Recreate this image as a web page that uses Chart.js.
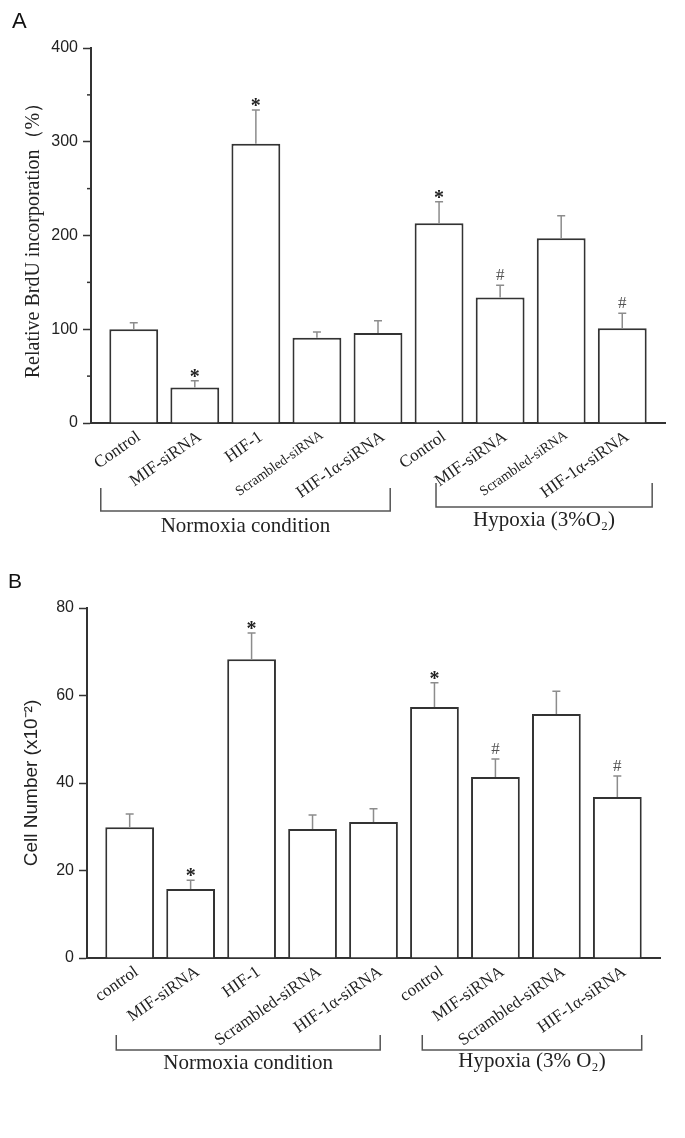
<!DOCTYPE html>
<html>
<head>
<meta charset="utf-8">
<script src="https://cdn.jsdelivr.net/npm/chart.js@4.4.0/dist/chart.umd.min.js"></script>
<style>
    body { margin: 0; background: #fff; width: 685px; height: 1138px; position: relative; overflow: hidden; }
    .panel { position: absolute; left: 0; width: 685px; }
    .panel canvas { display: block; }
    .letter { position: absolute; font-family: 'Liberation Sans', Arial, sans-serif; color: #111; line-height: 1; }
</style>
</head>
<body>
<div class="panel" style="top:0;height:560px"><canvas id="grafico1" width="685" height="560"></canvas></div>
<div class="panel" style="top:560px;height:578px"><canvas id="grafico2" width="685" height="578"></canvas></div>
<div class="letter" style="left:12px;top:10px;font-size:22px">A</div>
<div class="letter" style="left:8px;top:570px;font-size:21px">B</div>
<script>
    // panel A - BrdU
    const labelsA = ['Control', 'MIF-siRNA', 'HIF-1', 'Scrambled-siRNA', 'HIF-1α-siRNA', 'Control', 'MIF-siRNA', 'Scrambled-siRNA', 'HIF-1α-siRNA'];
    const brduMean = [100, 38, 298, 91, 96, 213, 134, 197, 101];
    const brduErr = [7, 7, 36, 6, 13, 23, 13, 24, 16];
    const marksA = ['', '*', '*', '', '', '*', '#', '', '#'];
    const yTicksA = [0, 100, 200, 300, 400];
    const yMinorA = [50, 150, 250, 350];
    const groupsA = ['Normoxia condition', 'Hypoxia (3%O₂)'];

    // panel B - cell number
    const labelsB = ['control', 'MIF-siRNA', 'HIF-1', 'Scrambled-siRNA', 'HIF-1α-siRNA', 'control', 'MIF-siRNA', 'Scrambled-siRNA', 'HIF-1α-siRNA'];
    const cellMean = [29.9, 15.8, 68.3, 29.5, 31.1, 57.4, 41.4, 55.8, 36.8];
    const cellErr = [3.0, 2.0, 6.0, 3.2, 3.0, 5.5, 4.1, 5.2, 4.8];
    const marksB = ['', '*', '*', '', '', '*', '#', '', '#'];
    const yTicksB = [0, 20, 40, 60, 80];
    const groupsB = ['Normoxia condition', 'Hypoxia (3% O₂)'];

    const serif = "'Liberation Serif', 'Times New Roman', serif";
    const sans = "'Liberation Sans', Arial, sans-serif";

    const decor = {
        id: 'decor',
        afterDatasetsDraw(chart, args, opts) {
            const { ctx } = chart;
            const x = chart.scales.x, y = chart.scales.y;
            ctx.save();
            chart.data.datasets[0].data.forEach((pt, i) => {
                const px = x.getPixelForValue(pt.x);
                const top = y.getPixelForValue(pt.y);
                const errTop = y.getPixelForValue(pt.y + opts.errors[i]);
                ctx.strokeStyle = '#8c8c8c';
                ctx.lineWidth = 1.5;
                ctx.beginPath();
                ctx.moveTo(px, top);
                ctx.lineTo(px, errTop);
                ctx.moveTo(px - 4, errTop);
                ctx.lineTo(px + 4, errTop);
                ctx.stroke();

                const m = opts.marks[i];
                if (m === '*') {
                    ctx.fillStyle = '#222';
                    ctx.font = 'bold 20px ' + serif;
                    ctx.textAlign = 'center';
                    ctx.textBaseline = 'alphabetic';
                    ctx.fillText(m, px, errTop + 2);
                } else if (m === '#') {
                    ctx.fillStyle = '#555';
                    ctx.font = '17px ' + serif;
                    ctx.textAlign = 'center';
                    ctx.textBaseline = 'alphabetic';
                    ctx.fillText(m, px, errTop - 5);
                }
            });
            ctx.restore();
        },
        afterDraw(chart, args, opts) {
            const { ctx, chartArea } = chart;
            const x = chart.scales.x, y = chart.scales.y;
            ctx.save();
            // minor ticks
            ctx.strokeStyle = '#333';
            ctx.lineWidth = 1.5;
            (opts.minor || []).forEach(v => {
                const py = y.getPixelForValue(v);
                ctx.beginPath();
                ctx.moveTo(chartArea.left - 4, py);
                ctx.lineTo(chartArea.left, py);
                ctx.stroke();
            });
            // group brackets
            opts.brackets.forEach((b, i) => {
                const x1 = x.getPixelForValue(b.from);
                const x2 = x.getPixelForValue(b.to);
                const yt = chartArea.bottom + b.top;
                const yb = chartArea.bottom + b.bottom;
                ctx.strokeStyle = '#555';
                ctx.lineWidth = 1.5;
                ctx.beginPath();
                ctx.moveTo(x1, yt);
                ctx.lineTo(x1, yb);
                ctx.lineTo(x2, yb);
                ctx.lineTo(x2, yt);
                ctx.stroke();
                ctx.fillStyle = '#222';
                ctx.font = '21px ' + serif;
                ctx.textAlign = 'center';
                ctx.textBaseline = 'alphabetic';
                ctx.fillText(opts.groups[i], (x1 + x2) / 2, chartArea.bottom + b.text);
            });
            ctx.restore();
        }
    };

    function criarGrafico(id, cfg) {
        const graf = document.getElementById(id);
        return new Chart(graf.getContext('2d'), {
            type: 'bar',
            data: {
                datasets: [{
                    data: cfg.values.map((v, i) => ({ x: i, y: v })),
                    backgroundColor: '#fff',
                    borderColor: '#333',
                    borderWidth: 2,
                    barPercentage: 1,
                    categoryPercentage: 0.8
                }]
            },
            options: {
                responsive: false,
                animation: false,
                devicePixelRatio: 1,
                layout: { padding: { left: 0, top: 48, right: cfg.padRight, bottom: 0 } },
                plugins: {
                    legend: { display: false },
                    tooltip: { enabled: false },
                    decor: {
                        errors: cfg.errors,
                        marks: cfg.marks,
                        minor: cfg.minor,
                        groups: cfg.groups,
                        brackets: cfg.brackets
                    }
                },
                scales: {
                    x: {
                        type: 'linear',
                        offset: false,
                        min: -0.7,
                        max: 8.7,
                        afterBuildTicks: s => { s.ticks = cfg.labels.map((_, i) => ({ value: i })); },
                        afterFit: s => { s.height = cfg.xHeight; },
                        grid: { display: true, offset: false, drawOnChartArea: false, drawTicks: false },
                        border: { display: true, color: '#333', width: 2 },
                        ticks: {
                            autoSkip: false,
                            minRotation: 35,
                            maxRotation: 35,
                            padding: 4,
                            labelOffset: cfg.labelOffset,
                            color: '#222',
                            callback: v => cfg.labels[v],
                            font: c => ({
                                family: serif,
                                size: (c.tick && c.tick.label === 'Scrambled-siRNA') ? cfg.smallSize : cfg.labelSize
                            })
                        }
                    },
                    y: {
                        min: cfg.yTicks[0],
                        max: cfg.yTicks[cfg.yTicks.length - 1],
                        afterBuildTicks: s => { s.ticks = cfg.yTicks.map(v => ({ value: v })); },
                        afterFit: s => { s.width = cfg.yWidth; },
                        grid: { display: true, drawOnChartArea: false, drawTicks: true, tickLength: 8, tickColor: '#333', tickWidth: 1.5 },
                        border: { display: true, color: '#333', width: 2 },
                        ticks: { color: '#222', padding: 5, font: { family: sans, size: 16 } },
                        title: {
                            display: true,
                            text: cfg.yTitle,
                            color: '#222',
                            font: cfg.yTitleFont,
                            padding: { top: cfg.titlePad, bottom: 0 }
                        }
                    }
                }
            },
            plugins: [decor]
        });
    }

    criarGrafico('grafico1', {
        labels: labelsA,
        values: brduMean,
        errors: brduErr,
        marks: marksA,
        yTicks: yTicksA,
        minor: yMinorA,
        groups: groupsA,
        yTitle: 'Relative BrdU incorporation（%）',
        yTitleFont: { family: serif, size: 20 },
        titlePad: 22,
        yWidth: 91,
        xHeight: 137,
        padRight: 20,
        labelSize: 17,
        smallSize: 14,
        labelOffset: 5,
        brackets: [
            { from: -0.54, to: 4.2, top: 65, bottom: 88, text: 109 },
            { from: 4.95, to: 8.49, top: 60, bottom: 84, text: 103 }
        ]
    });

    criarGrafico('grafico2', {
        labels: labelsB,
        values: cellMean,
        errors: cellErr,
        marks: marksB,
        yTicks: yTicksB,
        minor: [],
        groups: groupsB,
        yTitle: 'Cell Number (x10⁻²)',
        yTitleFont: { family: sans, size: 19 },
        titlePad: 20,
        yWidth: 87,
        xHeight: 180,
        padRight: 25,
        labelSize: 17,
        smallSize: 17,
        labelOffset: 7,
        brackets: [
            { from: -0.22, to: 4.11, top: 77, bottom: 92, text: 111 },
            { from: 4.8, to: 8.4, top: 77, bottom: 92, text: 109 }
        ]
    });
</script>
</body>
</html>
